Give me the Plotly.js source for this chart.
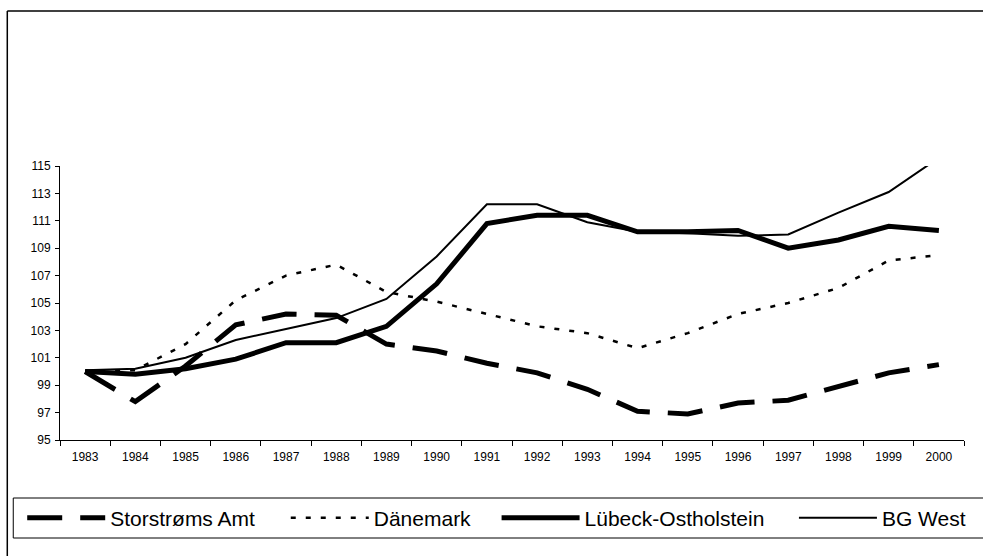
<!DOCTYPE html>
<html>
<head>
<meta charset="utf-8">
<script src="https://cdn.plot.ly/plotly-3.0.1.min.js"></script>
<style>html,body{margin:0;padding:0;background:#fff;}#chart{width:983px;height:556px;}</style>
</head>
<body>
<div id="chart"></div>
<script>
var years = ["1983","1984","1985","1986","1987","1988","1989","1990","1991","1992","1993","1994","1995","1996","1997","1998","1999","2000"];
var storstroms = [100, 97.8, 100.4, 103.4, 104.2, 104.1, 102.0, 101.5, 100.6, 99.9, 98.7, 97.1, 96.9, 97.7, 97.9, 98.9, 99.9, 100.5];
var daenemark  = [100, 100.1, 102.0, 105.2, 107.0, 107.8, 105.8, 105.1, 104.2, 103.3, 102.8, 101.7, 102.8, 104.2, 105.0, 106.1, 108.1, 108.5];
var luebeck    = [100, 99.8, 100.2, 100.9, 102.1, 102.1, 103.3, 106.4, 110.8, 111.4, 111.4, 110.2, 110.2, 110.3, 109.0, 109.6, 110.6, 110.3];
var bgwest     = [100.1, 100.2, 101.0, 102.3, 103.1, 103.9, 105.3, 108.4, 112.2, 112.2, 110.9, 110.2, 110.1, 109.9, 110.0, 111.6, 113.1, 115.6];
var yTicks = [95, 97, 99, 101, 103, 105, 107, 109, 111, 113, 115];
var names = ["Storstrøms Amt", "Dänemark", "Lübeck-Ostholstein", "BG West"];

var L = 60, R = 969, T = 166, B = 440;
var W = R - L, H = B - T;
function px(x){ return (x - L) / W; }
function py(y){ return (B - y) / H; }

var font = "Liberation Sans, Arial, sans-serif";

var traces = [
  {x: years, y: storstroms, name: names[0], mode: "lines", legend: "legend",
   line: {color: "#000", width: 5, dash: "35px,18px"}},
  {x: years, y: daenemark, name: names[1], mode: "lines", legend: "legend2",
   line: {color: "#000", width: 2.5, dash: "5px,10px"}},
  {x: years, y: luebeck, name: names[2], mode: "lines", legend: "legend3",
   line: {color: "#000", width: 5}},
  {x: years, y: bgwest, name: names[3], mode: "lines", legend: "legend4",
   line: {color: "#000", width: 2}}
];

function leg(x){
  return {x: px(x), y: py(518), xanchor: "left", yanchor: "middle", orientation: "h",
    bgcolor: "rgba(0,0,0,0)", borderwidth: 0, itemwidth: 78,
    font: {family: font, size: 21, color: "#000"}};
}

var layout = {
  width: 983, height: 556,
  margin: {l: L, r: 983 - R, t: T, b: 556 - B, pad: 0},
  paper_bgcolor: "#fff", plot_bgcolor: "#fff",
  showlegend: true,
  legend: leg(22), legend2: leg(287), legend3: leg(499), legend4: leg(798),
  xaxis: {type: "category", range: [-0.5, 17.5], tickson: "boundaries",
    showline: true, linecolor: "#000", linewidth: 1, showgrid: false, zeroline: false,
    ticks: "outside", ticklen: 5, tickcolor: "#000", tickwidth: 1, ticklabelstandoff: 6,
    tickfont: {family: font, size: 12, color: "#000"}, fixedrange: true},
  yaxis: {range: [95, 115], tickvals: yTicks, ticktext: yTicks.map(String),
    showline: true, linecolor: "#000", linewidth: 1, showgrid: false, zeroline: false,
    ticks: "outside", ticklen: 4, tickcolor: "#000", tickwidth: 1, ticklabelstandoff: 2,
    tickfont: {family: font, size: 12, color: "#000"}, fixedrange: true},
  shapes: [
    {type: "line", xref: "paper", yref: "paper", x0: px(7), x1: px(7), y0: py(11), y1: py(600),
     line: {color: "#000", width: 1.5}},
    {type: "line", xref: "paper", yref: "paper", x0: px(7), x1: px(1000), y0: py(11), y1: py(11),
     line: {color: "#000", width: 1.5}},
    {type: "rect", xref: "paper", yref: "paper", x0: px(13), x1: px(1000), y0: py(498), y1: py(538),
     line: {color: "#000", width: 1}}
  ]
};

Plotly.newPlot("chart", traces, layout, {displayModeBar: false, staticPlot: true});
</script>
</body>
</html>
